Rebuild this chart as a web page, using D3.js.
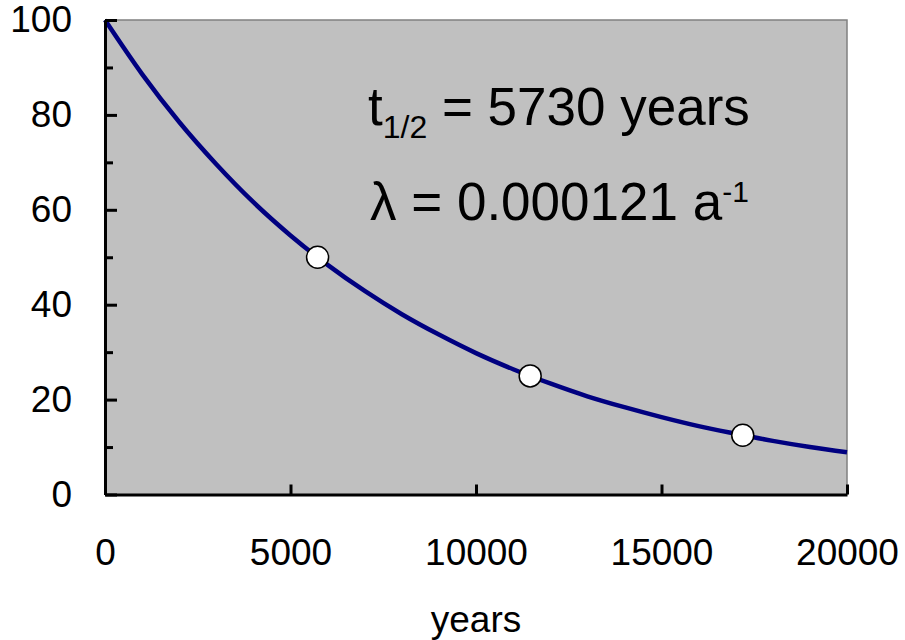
<!DOCTYPE html>
<html>
<head>
<meta charset="utf-8">
<script src="https://cdn.jsdelivr.net/npm/d3@7"></script>
<style>
  body { margin: 0; background: #fff; }
  svg { display: block; font-family: "Liberation Sans", Arial, sans-serif; }
</style>
</head>
<body>
<svg id="chart"></svg>
<script>
// decay curve (percent remaining)
const years = [0, 1000, 2000, 3000, 4000, 5000, 6000, 7000, 8000, 9000, 10000,
  11000, 12000, 13000, 14000, 15000, 16000, 17000, 18000, 19000, 20000];
const percent = [100, 88.6, 78.5, 69.6, 61.6, 54.6, 48.4, 42.9, 38.0, 33.7, 29.8,
  26.4, 23.4, 20.7, 18.4, 16.3, 14.4, 12.8, 11.3, 10.0, 8.9];

// half-life markers
const markerYears = [5730, 11460, 17190];
const markerPercent = [50, 25, 12.5];

const xTicks = [0, 5000, 10000, 15000, 20000];
const yTicks = [0, 20, 40, 60, 80, 100];
const yMinorTicks = [10, 30, 50, 70, 90];

const width = 905, height = 640;
const plot = { left: 105, right: 847, top: 20, bottom: 494.5 };

const svg = d3.select("#chart").attr("width", width).attr("height", height);

const x = d3.scaleLinear().domain([0, 20000]).range([plot.left, plot.right]);
const y = d3.scaleLinear().domain([0, 100]).range([plot.bottom, plot.top]);

// plot area
svg.append("rect")
  .attr("x", plot.left).attr("y", plot.top)
  .attr("width", plot.right - plot.left).attr("height", plot.bottom - plot.top)
  .attr("fill", "#c0c0c0");

svg.append("path")
  .attr("d", `M${plot.left},${plot.top}H${plot.right}V${plot.bottom}`)
  .attr("fill", "none").attr("stroke", "#808080").attr("stroke-width", 1.5);

// annotations
const note = svg.append("g").attr("fill", "#000");
const t1 = note.append("text").attr("x", 368).attr("y", 125).attr("font-size", 53);
t1.append("tspan").text("t");
t1.append("tspan").attr("font-size", 32).attr("dy", 13).text("1/2");
t1.append("tspan").attr("dy", -13).text(" = 5730 years");

const t2 = note.append("text").attr("x", 370).attr("y", 220).attr("font-size", 53);
t2.append("tspan").text("\u03bb = 0.000121 a");
t2.append("tspan").attr("font-size", 30).attr("dy", -18).text("-1");

// curve
const line = d3.line()
  .x((d, i) => x(years[i]))
  .y(d => y(d))
  .curve(d3.curveMonotoneX);

svg.append("path")
  .datum(percent)
  .attr("d", line)
  .attr("fill", "none")
  .attr("stroke", "#000080")
  .attr("stroke-width", 4.5);

svg.selectAll("circle.marker")
  .data(markerYears)
  .join("circle")
  .attr("class", "marker")
  .attr("cx", d => x(d))
  .attr("cy", (d, i) => y(markerPercent[i]))
  .attr("r", 11)
  .attr("fill", "#fff")
  .attr("stroke", "#000")
  .attr("stroke-width", 1.5);

// axes
svg.append("g")
  .attr("transform", `translate(${plot.left}, 0)`)
  .call(d3.axisLeft(y).tickValues(yTicks).tickSize(-12).tickSizeOuter(0).tickPadding(33));

const yMinor = svg.append("g")
  .attr("transform", `translate(${plot.left}, 0)`)
  .call(d3.axisLeft(y).tickValues(yMinorTicks).tickSize(-8).tickSizeOuter(0).tickFormat(""));
yMinor.select(".domain").remove();

svg.append("g")
  .attr("transform", `translate(0, ${plot.bottom})`)
  .call(d3.axisBottom(x).tickValues(xTicks).tickSize(-10).tickSizeOuter(0).tickPadding(44).tickFormat(d3.format("d")));

svg.selectAll(".domain, .tick line")
  .attr("stroke", "#000")
  .attr("stroke-width", 3);

svg.selectAll(".tick text")
  .attr("font-family", "'Liberation Sans', Arial, sans-serif")
  .attr("font-size", 37)
  .attr("fill", "#000");

svg.append("text")
  .attr("x", (plot.left + plot.right) / 2)
  .attr("y", 632)
  .attr("text-anchor", "middle")
  .attr("font-size", 37)
  .text("years");
</script>
</body>
</html>
